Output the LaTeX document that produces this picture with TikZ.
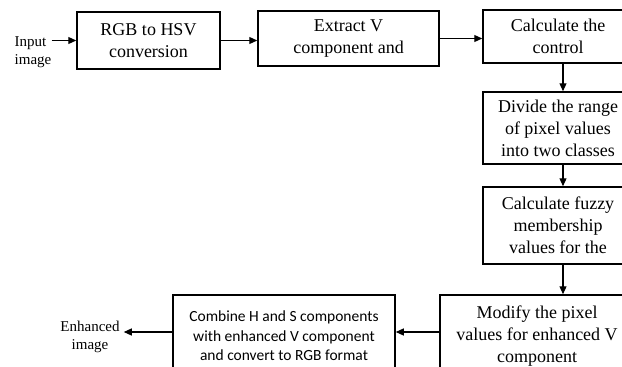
\documentclass[tikz,border=0pt]{standalone}
\usepackage{fontspec}
\setmainfont{Liberation Serif}
\newfontfamily\calibri{Carlito}
\usetikzlibrary{arrows.meta}

\begin{document}
\begin{tikzpicture}[x=1pt, y=-1pt,
  box/.style={draw, line width=1.5pt, align=center, inner sep=0pt, font=\fontsize{18}{22}\selectfont},
  lbl/.style={inner sep=0pt, font=\fontsize{15}{18}\selectfont},
  arr/.style={line width=1.2pt, -{Triangle[length=8pt,width=7pt]}}]
\useasboundingbox (0,0) rectangle (622,367);
\clip (0,0) rectangle (622,367);

\node[lbl, align=left] (in) at (33,52) {Input\\image};
\node[box, minimum width=143pt, minimum height=57pt] (rgb) at (148.5,40.5) {RGB to HSV\\conversion};
\node[box, minimum width=181pt, minimum height=55pt] (extract) at (348.5,38.5) {Extract V\\component and};
\node[box, minimum width=150pt, minimum height=53pt] (control) at (558,36.5) {Calculate the\\control};
\node[box, minimum width=150pt, minimum height=72pt] (divide) at (558,128) {Divide the range\\of pixel values\\into two classes};
\node[box, minimum width=150pt, minimum height=77pt] (fuzzy) at (558,225.5) {Calculate fuzzy\\membership\\values for the};
\node[box, minimum width=194pt, minimum height=82pt] (modify) at (537,336) {Modify the pixel\\values for enhanced V\\component};
\node[box, minimum width=222pt, minimum height=82pt, font=\calibri\fontsize{15.5}{19.5}\selectfont] (combine) at (284,336) {Combine H and S components\\with enhanced V component\\and convert to RGB format};
\node[lbl, align=center, inner xsep=4pt] (out) at (90,337) {Enhanced\\image};

\draw[arr] (in.east |- rgb.west) -- (rgb.west);
\draw[arr] (rgb.east) -- (rgb.east -| extract.west);
\draw[arr] (extract.east) -- (extract.east -| control.west);
\draw[arr] ([xshift=5pt]control.south) -- ([xshift=5pt]control.south |- divide.north);
\draw[arr] ([xshift=5pt]divide.south) -- ([xshift=5pt]divide.south |- fuzzy.north);
\draw[arr] ([xshift=5pt]fuzzy.south) -- ([xshift=5pt]fuzzy.south |- modify.north);
\draw[arr] ([yshift=4pt]modify.west) -- ([yshift=4pt]modify.west -| combine.east);
\draw[arr] ([yshift=4pt]combine.west) -- ([yshift=4pt]combine.west -| out.east);
\end{tikzpicture}
\end{document}
